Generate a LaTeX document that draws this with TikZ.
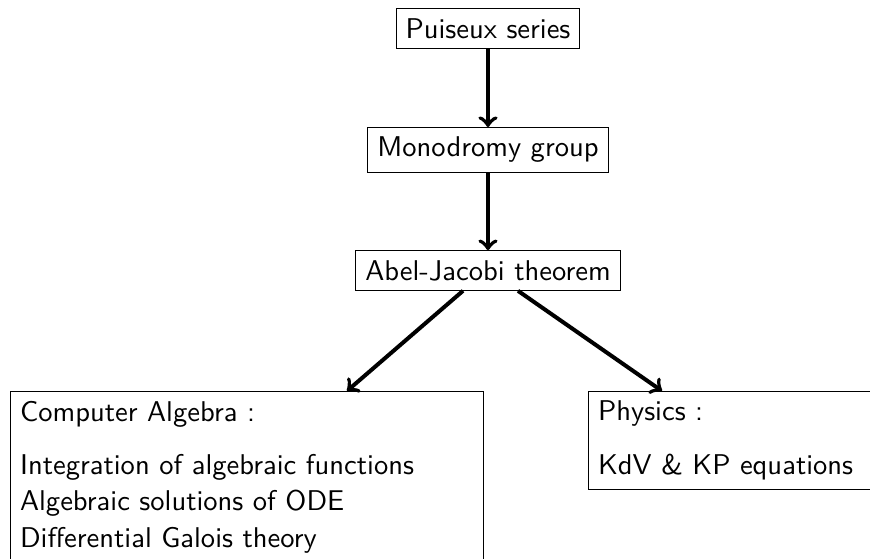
\documentclass[tikz,border=0pt]{standalone}
\usepackage{amsmath}

\tikzset{
  stage/.style={draw, font=\sffamily},
  branch/.style={draw, font=\sffamily, anchor=north west, align=left, text width=159pt},
  arr/.style={->, line width=1.4pt}
}

\begin{document}
\begin{tikzpicture}[x=0.35pt, y=-0.35pt]
\useasboundingbox (0,0) rectangle (870,559);
%\draw (0,0) to[grid with coordinates] (870,559);
\node[stage] (puiseux) at (488,28.5) {Puiseux series};
\node[stage] (mono) at (488,150) {Monodromy group};
\node[stage] (abel) at (488,270.5) {Abel-Jacobi theorem};
\node[branch] (compalg) at (10,391) {Computer Algebra :\\[6.7pt]
  Integration of algebraic functions\\[0.7pt]
  Algebraic solutions of ODE\\[0.7pt]
  Differential Galois theory};
\node[branch] (phys) at (588,391) {Physics :\\[6.7pt]KdV \& KP equations};
\draw[arr] (puiseux) -- (mono);
\draw[arr] (mono) -- (abel);
\draw[arr] ([shift={(-25,0)}]abel.south) -- ([shift={(337,0)}]compalg.north west);
\draw[arr] ([shift={(30,0)}]abel.south) -- ([shift={(74,0)}]phys.north west);
%\node[stage] at (488,-20) {lexicon};
\end{tikzpicture}
\end{document}
